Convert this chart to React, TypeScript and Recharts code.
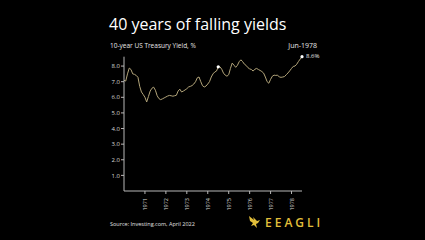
import { LineChart, Line, XAxis, YAxis } from "recharts"

// monthly 10-year yield, Jan 1970 .. Jun 1978
const YIELDS = [
  7.09, 7.04, 7.5, 7.87, 7.78, 7.5, 7.47, 7.4, 7.28, 6.7, 6.34, 6.18,
  6.0, 5.7, 6.05, 6.4, 6.58, 6.65, 6.45, 6.1, 5.92, 5.85, 5.9, 5.96,
  6.02, 6.08, 6.12, 6.1, 6.07, 6.1, 6.13, 6.4, 6.52, 6.34, 6.4, 6.47,
  6.55, 6.66, 6.7, 6.75, 6.85, 7.0, 7.25, 7.3, 7.0, 6.74, 6.66, 6.72,
  6.85, 7.0, 7.3, 7.5, 7.62, 7.68, 7.95, 7.95, 7.8, 7.55, 7.42, 7.35,
  7.45, 7.85, 8.19, 8.06, 7.92, 8.05, 8.28, 8.4, 8.28, 8.12, 8.04, 7.9,
  7.82, 7.78, 7.68, 7.8, 7.85, 7.78, 7.72, 7.65, 7.55, 7.3, 7.0, 6.9,
  7.15, 7.35, 7.42, 7.4, 7.42, 7.3, 7.28, 7.3, 7.33, 7.45, 7.56, 7.7,
  7.85, 7.98, 8.0, 8.12, 8.3, 8.45, 8.6,
]
const YEARS = ["1971", "1972", "1973", "1974", "1975", "1976", "1977", "1978"]
const Y_TICKS = [1, 2, 3, 4, 5, 6, 7, 8]
const HIGHLIGHT = [54, YIELDS.length - 1]

const data = YIELDS.map((v, i) => ({ m: i, v }))
const xTicks = YEARS.map((_, i) => (i + 1) * 12)

const FONT = "'Open Sans', 'Noto Sans', sans-serif"
const AXIS = "#b8b8b8"

function YearTick({ x, y, payload }: any) {
  const label = YEARS[payload.value / 12 - 1]
  return (
    <text
      x={x}
      y={y + 2}
      transform={`rotate(-90, ${x}, ${y + 2})`}
      textAnchor="end"
      dominantBaseline="central"
      fontSize={5.5}
      fill="#d8d8d8"
      fontFamily={FONT}
    >
      {label}
    </text>
  )
}

function Dot({ cx, cy, index }: any) {
  if (!HIGHLIGHT.includes(index)) return null
  return <circle key={index} cx={cx} cy={cy} r={1.6} fill="#fff" />
}

export default function App() {
  return (
    <div
      style={{
        position: "fixed",
        left: 0,
        top: 0,
        width: 425,
        height: 240,
        background: "#000",
        fontFamily: FONT,
        color: "#fff",
        overflow: "hidden",
      }}
    >
      <div style={{ position: "absolute", left: 109, top: 13, fontSize: 16, fontWeight: 500, whiteSpace: "nowrap" }}>
        40 years of falling yields
      </div>
      <div style={{ position: "absolute", left: 110, top: 41, fontSize: 6.5, color: "#e6e6e6", whiteSpace: "nowrap" }}>
        10-year US Treasury Yield, %
      </div>
      <div style={{ position: "absolute", right: 108, top: 41, fontSize: 7, color: "#e6e6e6", whiteSpace: "nowrap" }}>
        Jun-1978
      </div>
      <div style={{ position: "absolute", left: 306, top: 52, fontSize: 6, color: "#e6e6e6", whiteSpace: "nowrap" }}>
        8.6%
      </div>

      <div style={{ position: "absolute", left: 0, top: 0 }}>
        <LineChart width={425} height={240} data={data} margin={{ top: 56.7, right: 123, bottom: 19, left: 94 }}>
          <XAxis
            dataKey="m"
            type="number"
            domain={[0, YIELDS.length - 1]}
            ticks={xTicks}
            tick={<YearTick />}
            height={30}
            stroke={AXIS}
            tickSize={3}
            interval={0}
          />
          <YAxis
            type="number"
            domain={[0, 8.6]}
            ticks={Y_TICKS}
            tickFormatter={(v) => v.toFixed(1)}
            width={30}
            stroke={AXIS}
            tickSize={3}
            tickMargin={1}
            tick={{ fontSize: 6, fill: "#d8d8d8", fontFamily: FONT }}
          />
          <Line
            dataKey="v"
            stroke="#b3a57a"
            strokeWidth={1}
            dot={<Dot />}
            activeDot={false}
            isAnimationActive={false}
          />
        </LineChart>
      </div>

      <div style={{ position: "absolute", left: 110, top: 220, fontSize: 5.5, color: "#e0e0e0", whiteSpace: "nowrap" }}>
        Source: Investing.com, April 2022
      </div>
      <svg style={{ position: "absolute", left: 248, top: 215 }} width={13} height={14} viewBox="0 0 13 14">
        <path d="M1 1 L6 5 L5 2 L9 6 L12 5 L10 8 L8 9 L9 13 L6 10 L3 11 L5 8 L2 6 Z" fill="#e3bf3a" />
      </svg>
      <div
        style={{
          position: "absolute",
          left: 265,
          top: 214,
          fontSize: 12,
          fontWeight: 600,
          letterSpacing: 3,
          color: "#e3bf3a",
          whiteSpace: "nowrap",
        }}
      >
        EEAGLI
      </div>
    </div>
  )
}
